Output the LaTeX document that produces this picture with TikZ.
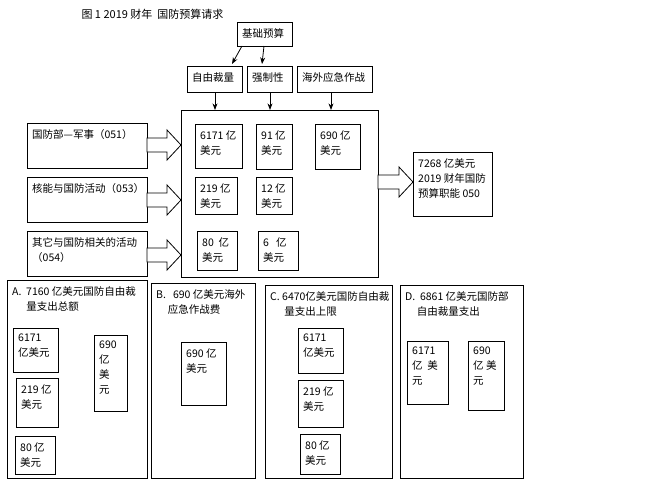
\documentclass[tikz,border=0pt]{standalone}
\usepackage{fontspec}
\setmainfont{Noto Sans CJK SC}
\usetikzlibrary{positioning,arrows.meta}

\tikzset{
  box/.style={draw, thick, rectangle, inner sep=0pt},
  lbl/.style={anchor=north west, align=left, font=\fontsize{10.5}{15}\selectfont, inner sep=0pt},
  hollow/.style={draw, thick, fill=white}
}
% box from corner (x1,y1) to (x2,y2) in pixels, text at top left
\newcommand{\bx}[6]{%
  \draw[box] (#2pt,-#3pt) rectangle (#4pt,-#5pt);
  \node[lbl] (#1) at ({#2pt+5pt},{-#3pt-6pt}) {#6};
  \coordinate (#1-n) at ({(#2pt+#4pt)/2},-#3pt);
  \coordinate (#1-s) at ({(#2pt+#4pt)/2},-#5pt);
}
\newcommand{\hollowarrow}[3]{%
  \draw[hollow] (#1pt,-#3pt+7pt) -- ({#2pt-14pt},-#3pt+7pt) -- ({#2pt-14pt},-#3pt+15pt)
    -- (#2pt,-#3pt) -- ({#2pt-14pt},-#3pt-15pt) -- ({#2pt-14pt},-#3pt-7pt) -- (#1pt,-#3pt-7pt) -- cycle;
}

\begin{document}
\begin{tikzpicture}
\useasboundingbox (0,0) rectangle (658pt,-482pt);

\node[anchor=west, font=\fontsize{11}{12}\selectfont] (title) at (78pt,-14pt) {图 1 2019 财年\ \ 国防预算请求};

% top row
\bx{base}{237}{22}{292}{46}{基础预算}
\bx{disc}{187}{66}{242}{92}{自由裁量}
\bx{mand}{247}{66}{292}{92}{强制性}
\bx{oco}{297}{66}{372}{92}{海外应急作战}
\coordinate (big-a) at (215pt,-110pt);
\coordinate (big-b) at (270pt,-110pt);
\coordinate (big-c) at (331pt,-110pt);
\draw[-{Stealth}, thick] (242pt,-46pt) -- (232pt,-64pt);
\draw[-{Stealth}, thick] (264pt,-46pt) -- (262pt,-64pt);
\draw[-{Stealth}, thick] (disc-s -| big-a) -- (big-a);
\draw[-{Stealth}, thick] (mand-s -| big-b) -- (big-b);
\draw[-{Stealth}, thick] (oco-s -| big-c) -- (big-c);

% main box
\draw[box] (181pt,-110pt) rectangle (378pt,-277pt);
\bx{m1}{195}{124}{242}{168}{6171 亿\\美元}
\bx{m2}{256}{124}{292}{169}{91 亿\\美元}
\bx{m3}{315}{124}{360}{169}{690\ 亿\\美元}
\bx{m4}{195}{177}{237}{214}{219 亿\\美元}
\bx{m5}{256}{177}{292}{214}{12 亿\\美元}
\bx{m6}{197}{231}{237}{270}{80\ \ 亿\\美元}
\bx{m7}{258}{231}{298}{270}{6\ \ \ 亿\\美元}

% left inputs
\bx{mil}{27}{123}{147}{168}{国防部—军事（051）}
\bx{nuc}{27}{177}{147}{222}{核能与国防活动（053）}
\bx{oth}{27}{231}{147}{276}{其它与国防相关的活动\\（054）}
\hollowarrow{147}{181}{145}
\hollowarrow{147}{181}{200}
\hollowarrow{147}{181}{255}

% result
\hollowarrow{378}{413}{182}
\bx{res}{413}{152}{492}{216}{7268 亿美元\\2019 财年国防\\预算职能 050}

% bottom panels
\bx{pa}{7}{280}{147}{478}{A.\ \ 7160 亿美元国防自由裁\\\ \ \ \ \ \ 量支出总额}
\bx{a1}{13}{328}{58}{372}{6171\\亿美元}
\bx{a2}{16}{378}{58}{427}{219 亿\\美元}
\bx{a3}{94}{335}{127}{411}{690\\亿\\美\\元}
\bx{a4}{15}{436}{55}{474}{80\ 亿\\美元}

\bx{pb}{151}{283}{255}{478}{B.\ \ \ 690 亿美元海外\\\ \ \ \ \ 应急作战费}
\bx{b1}{181}{342}{226}{405}{690 亿\\美元}

\bx{pc}{265}{285}{392}{478}{C. 6470亿美元国防自由裁\\\ \ \ \ \ \ 量支出上限}
\bx{c1}{298}{328}{343}{373}{6171\\亿美元}
\bx{c2}{298}{380}{343}{427}{219 亿\\美元}
\bx{c3}{300}{434}{340}{474}{80\ 亿\\美元}

\bx{pd}{400}{285}{523}{478}{D.\ \ 6861 亿美元国防部\\\ \ \ \ \ 自由裁量支出}
\bx{d1}{407}{341}{448}{404}{6171\\亿\ \ 美\\元}
\bx{d2}{468}{341}{504}{410}{690\\亿 美\\元}
\end{tikzpicture}
\end{document}
